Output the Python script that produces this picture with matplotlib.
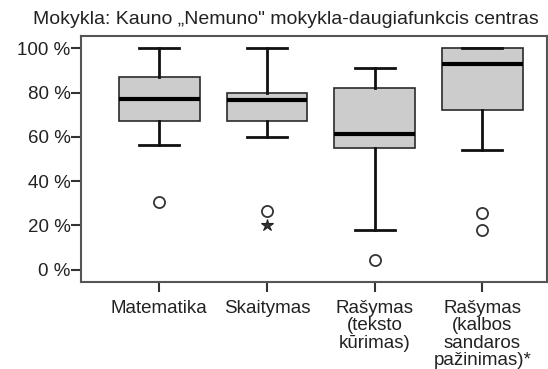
import matplotlib
matplotlib.use("Agg")
import matplotlib.pyplot as plt

plt.rcParams['font.family'] = ['Liberation Sans', 'DejaVu Sans']

title = "Mokykla: Kauno \u201eNemuno\" mokykla-daugiafunkcis centras"
categories = ["Matematika", "Skaitymas", "Rašymas\n(teksto\nkūrimas)",
              "Rašymas\n(kalbos\nsandaros\npažinimas)*"]
whislo = [56.5, 60, 18, 54]
q1 = [67, 67, 55, 72]
med = [77, 76.5, 61.5, 93]
q3 = [87, 80, 82, 100]
whishi = [100, 100, 91, 100]
outliers = [[30.5], [26.5], [4.5], [25.5, 18]]
extremes = [[], [20], [], []]
yticks = [0, 20, 40, 60, 80, 100]
yticklabels = ["0 %", "20 %", "40 %", "60 %", "80 %", "100 %"]

fig = plt.figure(figsize=(5.48, 3.69), dpi=100)
ax = fig.add_axes([0.1487, 0.2358, 0.998 - 0.1487, 0.9024 - 0.2358])

stats = []
for i in range(len(categories)):
    stats.append(dict(med=med[i], q1=q1[i], q3=q3[i], whislo=whislo[i],
                      whishi=whishi[i], fliers=outliers[i]))
positions = list(range(1, len(categories) + 1))
ax.bxp(stats, positions=positions, widths=0.75, patch_artist=True,
       capwidths=0.37,
       boxprops=dict(facecolor='#cccccc', edgecolor='#2a2a2a', linewidth=1.2),
       medianprops=dict(color='black', linewidth=3),
       whiskerprops=dict(color='#111111', linewidth=2),
       capprops=dict(color='#111111', linewidth=2),
       flierprops=dict(marker='o', markersize=8, markerfacecolor='white',
                       markeredgecolor='#333333', markeredgewidth=1.3))
for p, ext in zip(positions, extremes):
    if ext:
        ax.plot([p] * len(ext), ext, linestyle='none', marker='*', markersize=9,
                markerfacecolor='#333333', markeredgecolor='#222222',
                markeredgewidth=0.8)

ax.set_xlim(0.278, 4.6)
ax.set_ylim(-5.5, 105.5)
ax.set_yticks(yticks)
ax.set_yticklabels(yticklabels)
ax.set_xticks(positions)
ax.set_xticklabels(categories, linespacing=1.02)
ax.tick_params(axis='both', labelsize=13.5, colors='#333333', labelcolor='#222222',
               width=1.5, length=7)
ax.tick_params(axis='y', pad=1)
ax.tick_params(axis='x', pad=6)
for s in ax.spines.values():
    s.set_color('#555555')
    s.set_linewidth(1.5)

fig.text(0.522, 0.946, title, ha='center', va='center', fontsize=14, color='#222222')

fig.savefig("out.png", dpi=100)
